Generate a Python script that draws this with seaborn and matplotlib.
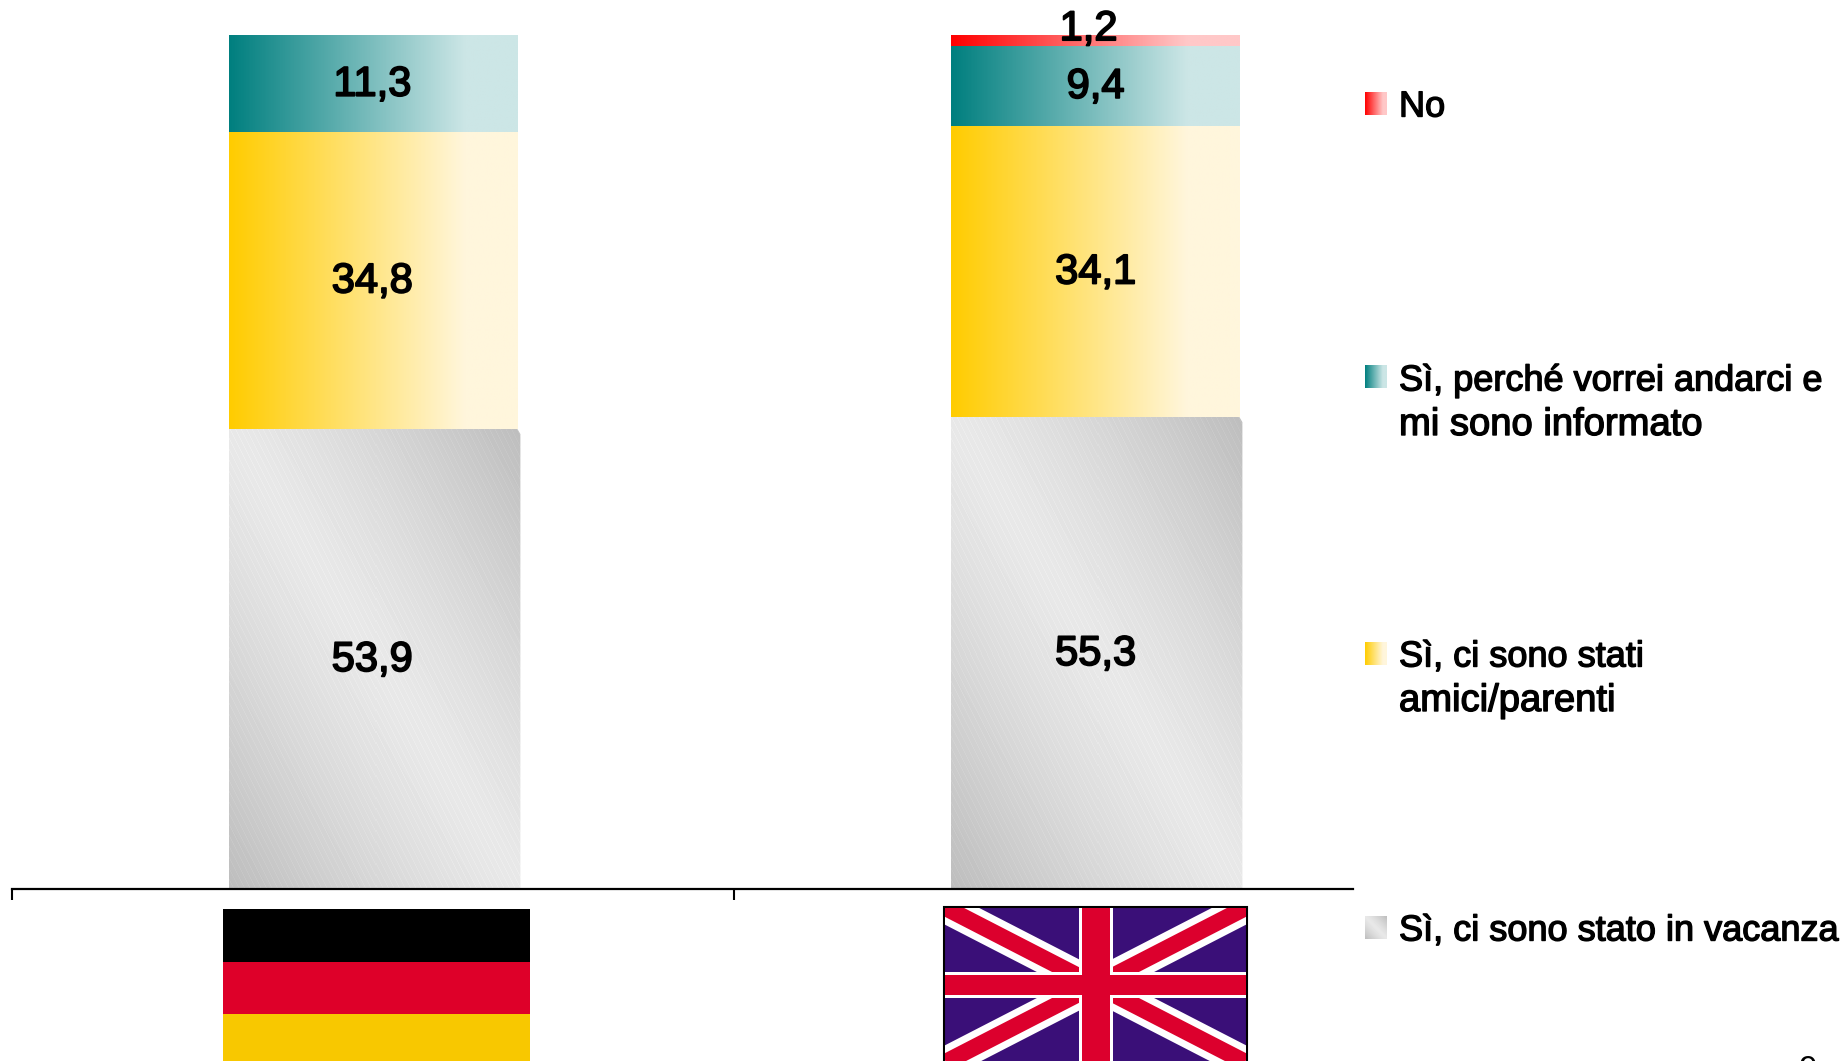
import numpy as np
import pandas as pd
import seaborn as sns
import matplotlib.pyplot as plt
import matplotlib.patheffects as pe
from matplotlib.colors import LinearSegmentedColormap
from matplotlib.patches import Polygon, Rectangle

# values, bottom to top of the stack
countries = ['Germania', 'Regno Unito']
vacanza = [53.9, 55.3]
amici = [34.8, 34.1]
informato = [11.3, 9.4]
no = [0.0, 1.2]

series_names = ['Sì, ci sono stato in vacanza', 'Sì, ci sono stati\namici/parenti',
                'Sì, perché vorrei andarci e\nmi sono informato', 'No']
page_number = '9'

W, H = 1847, 1061
BASE_Y = 889
PX_PER_X = 722
PX_PER_Y = 8.535

sns.set_theme(style='white')
plt.rcParams['font.family'] = ['Liberation Sans', 'DejaVu Sans']

df = pd.DataFrame({'country': countries, 'vacanza': vacanza, 'amici': amici,
                   'informato': informato, 'no': no})
cols = ['vacanza', 'amici', 'informato', 'no']

# end colours of the horizontal gradients
gradients = {
    'amici': ('#ffcc00', '#fff6dc'),
    'informato': ('#007f7f', '#cce6e6'),
    'no': ('#ff0000', '#ffc8c8'),
}


def horizontal_fill(ax, extent, c0, c1):
    cmap = LinearSegmentedColormap.from_list('g', [c0, c1])
    # gradient is finished a bit before the right edge
    xs = np.clip(np.linspace(0, 1, 256) / 0.82, 0, 1)
    ax.imshow(xs[None, :], extent=extent, cmap=cmap, vmin=0, vmax=1,
              aspect='auto', interpolation='bilinear', zorder=2)


def diagonal_fill(ax, extent, w, h, stripes=True):
    # light band runs top-left to bottom-right, dark towards the other two corners
    yy, xx = np.mgrid[0:h, 0:w]
    d = np.abs((xx / w) - (yy / h))
    img = 0.91 - 0.17 * d ** 1.25
    if stripes:
        img = img + 0.018 * (((xx * 2 - yy) % 11) < 2)
    ax.imshow(img, extent=extent, cmap='gray', vmin=0, vmax=1, aspect='auto',
              interpolation='nearest', zorder=2)


fig = plt.figure(figsize=(W / 100, H / 100), dpi=100)
ax = fig.add_axes([12 / W, 1 - BASE_Y / H, 1341 / W, BASE_Y / H])

bottom = np.zeros(len(df))
for col in cols:
    sns.barplot(data=df, x='country', y=col, bottom=bottom, width=0.4, color='white',
                linewidth=0, ax=ax, order=countries, zorder=1)
    bottom = bottom + df[col].to_numpy()

# seaborn adds the bars in series order, so the patches can be read back
patches = list(ax.patches)
n = len(countries)
for i, col in enumerate(cols):
    for j in range(n):
        p = patches[i * n + j]
        if p.get_height() == 0:
            p.set_visible(False)
            continue
        x0, x1 = p.get_x(), p.get_x() + p.get_width()
        y0, y1 = p.get_y(), p.get_y() + p.get_height()
        if col == 'vacanza':
            # the grey block is a touch wider, with a clipped corner
            x1 += 3 / PX_PER_X
            w = int((x1 - x0) * PX_PER_X)
            h = int((y1 - y0) * PX_PER_Y)
            diagonal_fill(ax, (x0, x1, y0, y1), w, h)
            ax.images[-1].set_clip_path(Polygon(
                [(x0, y0), (x1, y0), (x1, y1 - 0.6), (x1 - 3 / PX_PER_X, y1), (x0, y1)],
                transform=ax.transData))
        else:
            horizontal_fill(ax, (x0, x1, y0, y1), *gradients[col])

# value labels
country_dx = [-0.5, 0.5]
for i, col in enumerate(cols):
    for j in range(n):
        val = df[col].iloc[j]
        if val == 0:
            continue
        p = patches[i * n + j]
        dx, dy = (-4.6, 11.5) if col == 'no' else (country_dx[j], 2.5)
        ax.annotate(f'{val:.1f}'.replace('.', ','), (p.get_x() + p.get_width() / 2, p.get_y() + val / 2),
                    xytext=(dx, dy), textcoords='offset points', ha='center', va='center_baseline',
                    fontsize=30, color='black', zorder=5,
                    path_effects=[pe.withStroke(linewidth=1.3, foreground='black')])

ax.set_xlim(-0.5, -0.5 + 1341 / PX_PER_X)
ax.set_ylim(0, BASE_Y / PX_PER_Y)
ax.set_xlabel('')
ax.set_ylabel('')
ax.set_yticks([])
ax.set_xticks([-0.5, 0.5])
ax.set_xticklabels([])
ax.tick_params(axis='x', bottom=True, length=8, width=1.5, color='black', direction='out')
sns.despine(ax=ax, left=True, top=True, right=True)
ax.spines['bottom'].set_color('black')
ax.spines['bottom'].set_linewidth(1.6)
ax.patch.set_alpha(0)

# overlay in pixel coordinates for legend and flags
ov = fig.add_axes([0, 0, 1, 1], zorder=-1)
ov.axis('off')

legend_stroke = [pe.withStroke(linewidth=1.0, foreground='black')]
legend_rows = [('no', 92, 103), ('informato', 365, 377), ('amici', 642, 653), ('vacanza', 916, 927)]
for col, y, text_y in legend_rows:
    extent = (1365, 1387, y + 23, y)
    if col == 'vacanza':
        diagonal_fill(ov, extent, 22, 23, stripes=False)
    else:
        horizontal_fill(ov, extent, *gradients[col])
    lines = series_names[cols.index(col)].split('\n')
    ov.text(1399, text_y, lines[0], fontsize=26, color='black', ha='left',
            va='center_baseline', path_effects=legend_stroke)
    if len(lines) == 2:
        ov.text(1399, text_y + 44, lines[1], fontsize=27.5, color='black', ha='left',
                va='center_baseline', path_effects=legend_stroke)

# German flag
fx0, fx1 = 223, 530
for y0, y1, c in [(909, 962, '#000000'), (962, 1014, '#de0029'), (1014, 1067, '#f8c800')]:
    ov.add_patch(Rectangle((fx0, y0), fx1 - fx0, y1 - y0, color=c, lw=0))

# Union flag
ux0, ux1, uy0, uy1 = 944, 1247, 907, 1063
ucx, ucy = (ux0 + ux1) / 2, (uy0 + uy1) / 2
ov.add_patch(Rectangle((ux0, uy0), ux1 - ux0, uy1 - uy0, facecolor='#3a0f78', edgecolor='black', lw=1.5, zorder=1))
for (xa, ya, xb, yb) in [(ux0, uy0, ux1, uy1), (ux0, uy1, ux1, uy0)]:
    for colour, lw, z in [('white', 22, 2), ('#dc002d', 12, 3)]:
        line, = ov.plot([xa, xb], [ya, yb], color=colour, lw=lw, solid_capstyle='butt', zorder=z)
        line.set_clip_path(Rectangle((ux0 + 1, uy0 + 1), ux1 - ux0 - 2, uy1 - uy0 - 2, transform=ov.transData))
ov.add_patch(Rectangle((ucx - 17, uy0 + 1), 34, uy1 - uy0, color='white', lw=0, zorder=4))
ov.add_patch(Rectangle((ux0 + 1, ucy - 13), ux1 - ux0 - 2, 26, color='white', lw=0, zorder=4))
ov.add_patch(Rectangle((ucx - 14, uy0 + 1), 28, uy1 - uy0, color='#dc002d', lw=0, zorder=5))
ov.add_patch(Rectangle((ux0 + 1, ucy - 10), ux1 - ux0 - 2, 20, color='#dc002d', lw=0, zorder=5))

ov.text(1808, 1055, page_number, fontsize=24, ha='center', va='top', color='black', clip_on=False)

ov.set_xlim(0, W)
ov.set_ylim(H, 0)

fig.savefig('out.png', dpi=100)
